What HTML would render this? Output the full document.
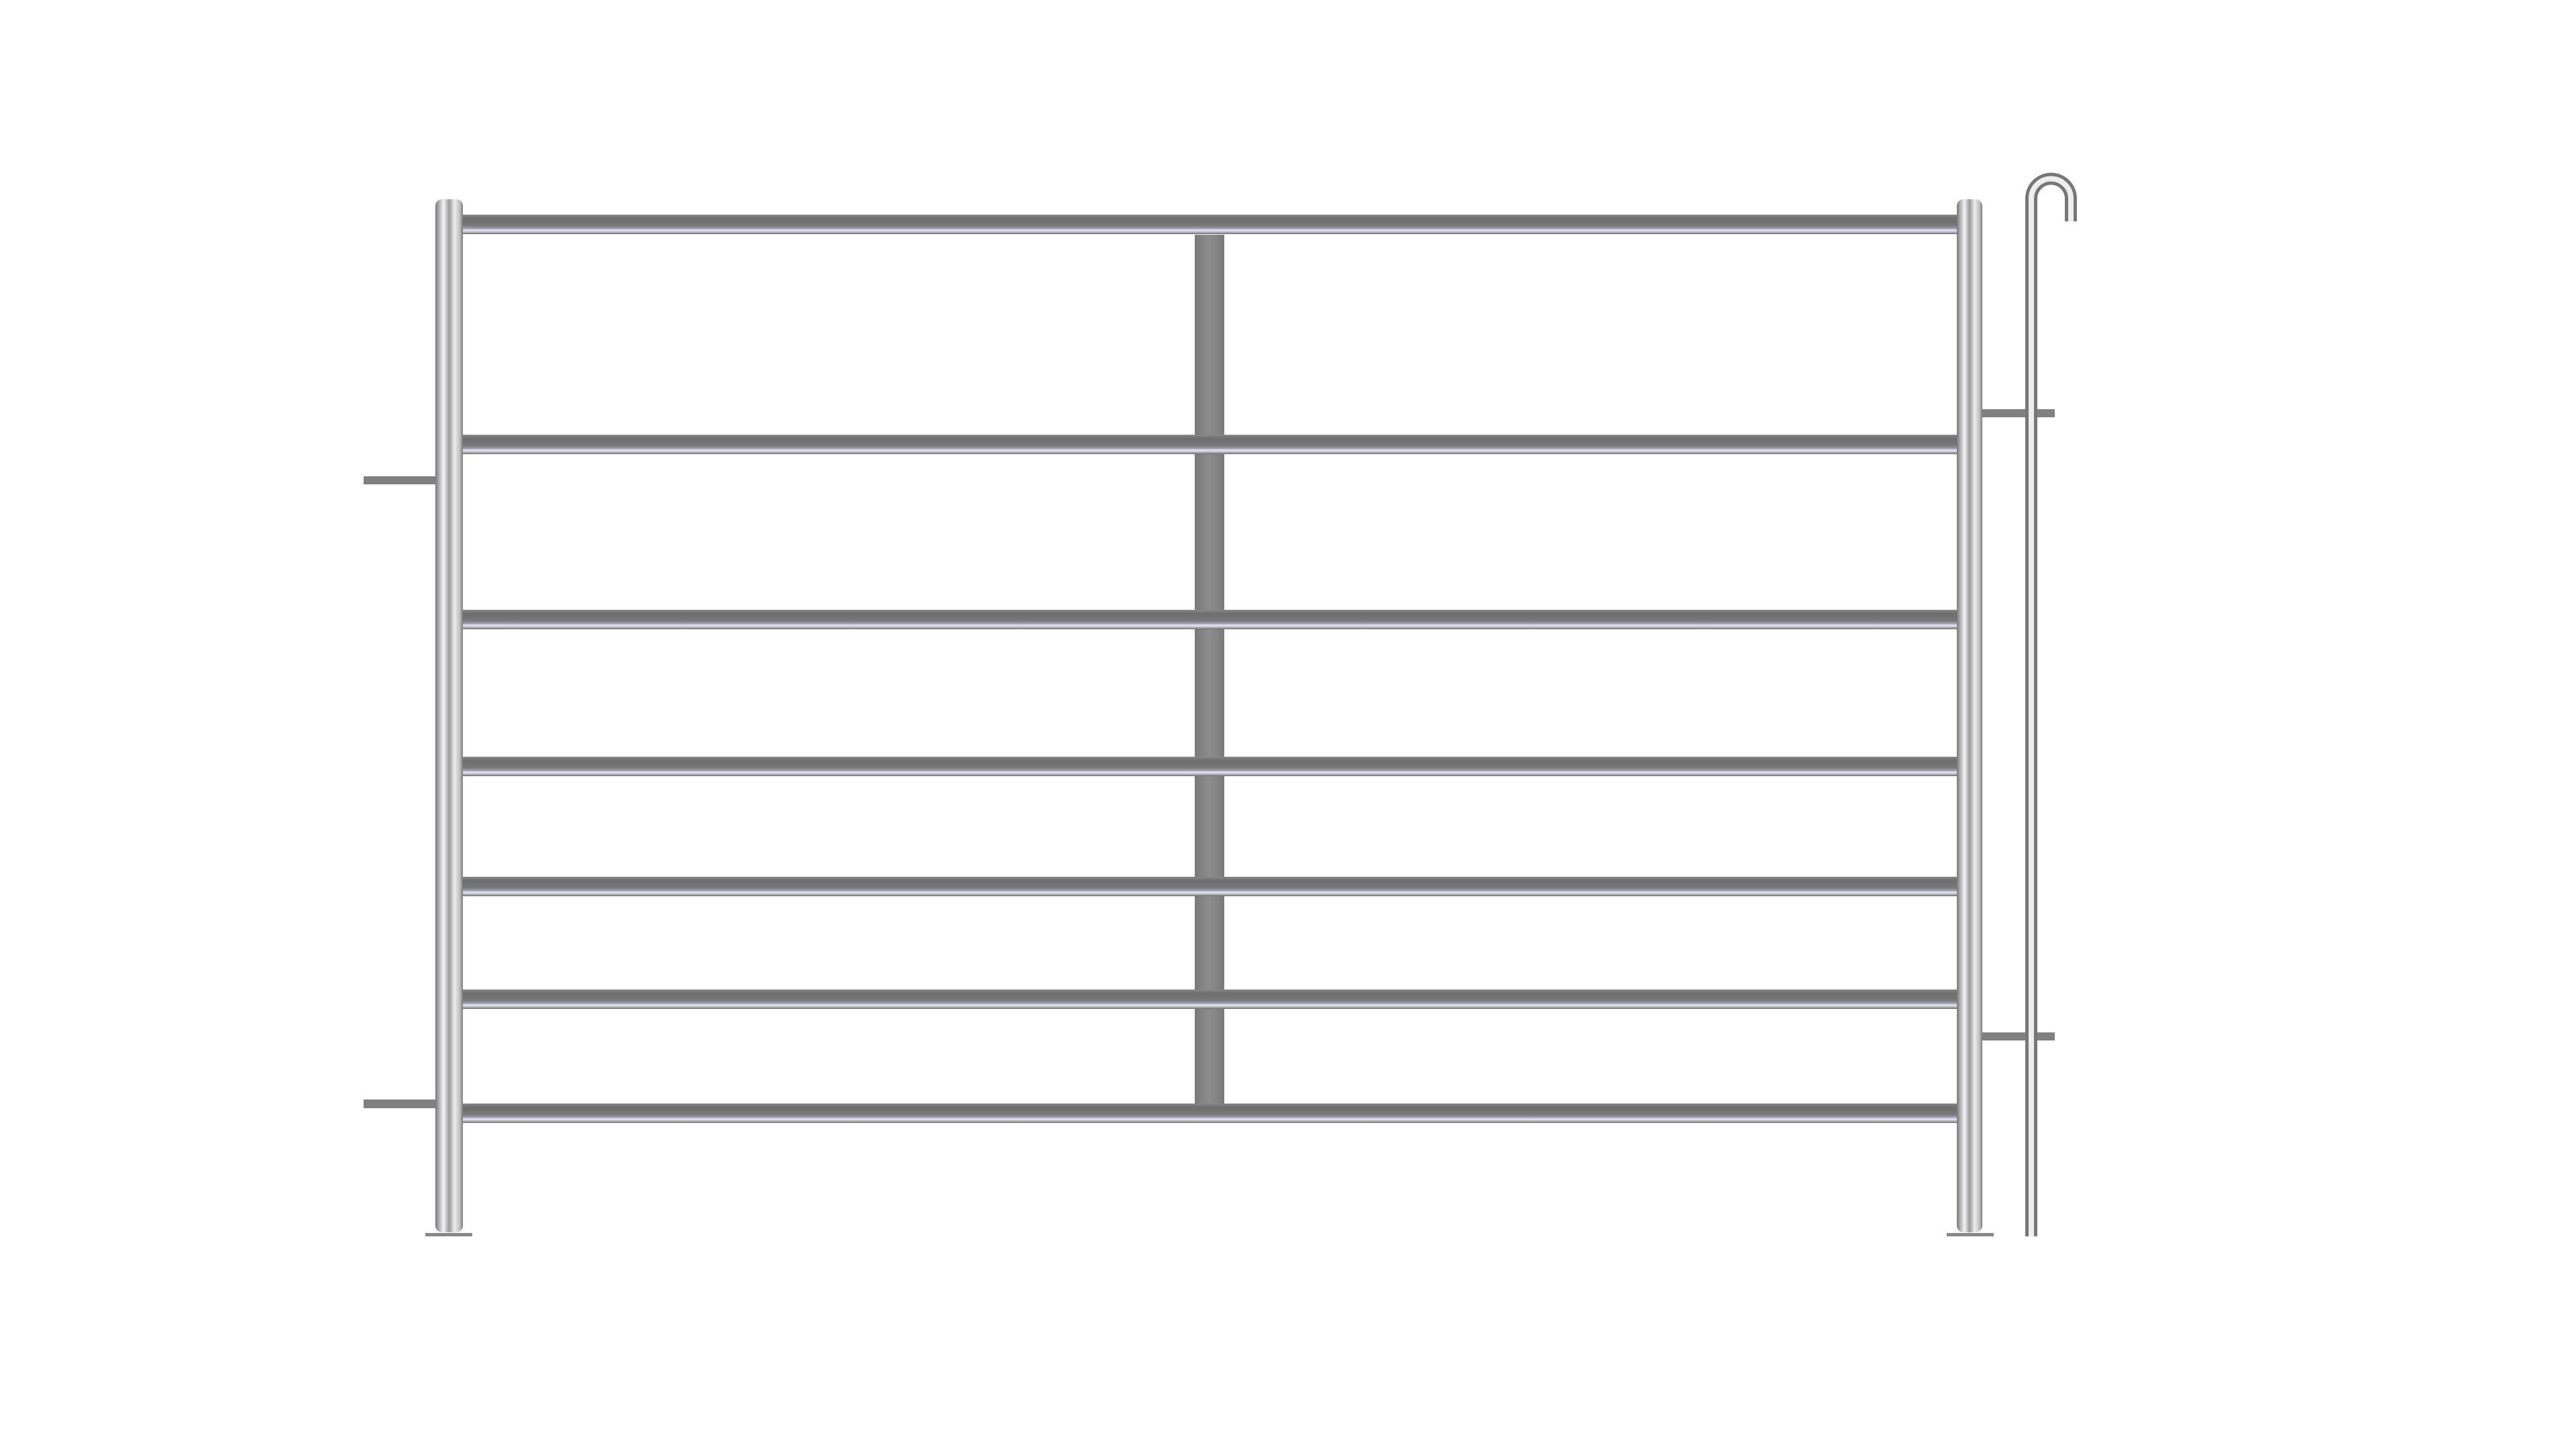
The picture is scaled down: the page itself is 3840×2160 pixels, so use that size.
<!DOCTYPE html>
<html><head><style>html,body{margin:0;padding:0;background:#fff}svg{display:block}</style></head>
<body>
<svg width="3840" height="2160" viewBox="0 0 3840 2160" xmlns="http://www.w3.org/2000/svg">
<defs>
<linearGradient id="post" x1="0" x2="1" y1="0" y2="0">
<stop offset="0" stop-color="#777"/><stop offset="0.12" stop-color="#aaa"/><stop offset="0.3" stop-color="#f4f4f8"/><stop offset="0.5" stop-color="#999"/><stop offset="0.7" stop-color="#eee"/><stop offset="0.9" stop-color="#bbb"/><stop offset="1" stop-color="#777"/>
</linearGradient>
<linearGradient id="rail" x1="0" x2="0" y1="0" y2="1">
<stop offset="0" stop-color="#888"/><stop offset="0.2" stop-color="#6e6e6e"/><stop offset="0.55" stop-color="#777"/><stop offset="0.7" stop-color="#9a9aa8"/><stop offset="0.8" stop-color="#e8e8ff"/><stop offset="0.92" stop-color="#aaa"/><stop offset="1" stop-color="#666"/>
</linearGradient>
<linearGradient id="strap" x1="0" x2="1">
<stop offset="0" stop-color="#7a7a7a"/><stop offset="0.5" stop-color="#8c8c8c"/><stop offset="1" stop-color="#7a7a7a"/>
</linearGradient>
</defs>
<rect x="1781" y="350" width="44" height="1310" fill="url(#strap)"/>
<g fill="url(#rail)">
<path d="M690 320 H2925 L2935 334 L2925 349 H690 L680 334Z"/>
<path d="M690 648 H2925 L2935 662 L2925 677 H690 L680 662Z"/>
<path d="M690 909 H2925 L2935 923 L2925 938 H690 L680 923Z"/>
<path d="M690 1128 H2925 L2935 1142 L2925 1157 H690 L680 1142Z"/>
<path d="M690 1307 H2925 L2935 1321 L2925 1336 H690 L680 1321Z"/>
<path d="M690 1475 H2925 L2935 1489 L2925 1504 H690 L680 1489Z"/>
<path d="M690 1645 H2925 L2935 1659 L2925 1674 H690 L680 1659Z"/>
</g>
<g fill="#808080">
<rect x="542" y="710" width="112" height="12"/>
<rect x="542" y="1639" width="112" height="13"/>
<rect x="2950" y="610" width="113" height="12"/>
<rect x="2950" y="1539" width="113" height="12"/>
</g>
<rect x="649" y="297" width="41" height="1540" rx="10" fill="url(#post)"/>
<rect x="2917" y="297" width="38" height="1540" rx="10" fill="url(#post)"/>
<rect x="634" y="1838" width="70" height="5" fill="#888"/>
<rect x="2902" y="1838" width="70" height="5" fill="#888"/>
<path d="M3028 1843 V296 A29.5 29.5 0 0 1 3087 296 V330" fill="none" stroke="#777" stroke-width="18"/>
<path d="M3028 1843 V296 A29.5 29.5 0 0 1 3087 296 V330" fill="none" stroke="#eee" stroke-width="8"/>
</svg>
</body></html>
